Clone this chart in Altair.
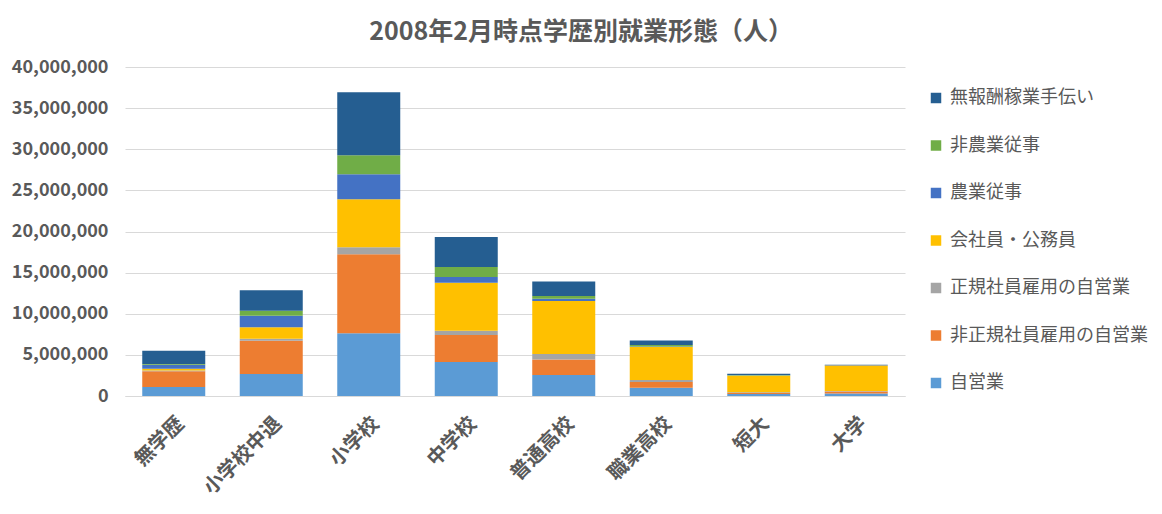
import altair as alt
import pandas as pd

categories = ["無学歴", "小学校中退", "小学校", "中学校", "普通高校", "職業高校", "短大", "大学"]
series = ["自営業", "非正規社員雇用の自営業", "正規社員雇用の自営業", "会社員・公務員",
          "農業従事", "非農業従事", "無報酬稼業手伝い"]
colors = ["#5B9BD5", "#ED7D31", "#A5A5A5", "#FFC000", "#4472C4", "#70AD47", "#255E91"]

jieigyo      = [1100000, 2670000, 7620000, 4130000, 2550000, 1000000, 250000, 300000]
hiseiki      = [1900000, 4050000, 9600000, 3300000, 1900000, 700000, 100000, 250000]
seiki        = [100000, 250000, 850000, 500000, 650000, 250000, 100000, 60000]
kaishain     = [200000, 1400000, 5850000, 5850000, 6450000, 4000000, 2000000, 3100000]
nogyo        = [500000, 1400000, 3050000, 700000, 280000, 80000, 40000, 20000]
hinogyo      = [100000, 600000, 2300000, 1200000, 330000, 160000, 60000, 20000]
muhoshu      = [1600000, 2500000, 7650000, 3650000, 1750000, 570000, 150000, 60000]

values = [jieigyo, hiseiki, seiki, kaishain, nogyo, hinogyo, muhoshu]

rows = []
for si, (s, vals) in enumerate(zip(series, values)):
    for c, v in zip(categories, vals):
        rows.append({"学歴": c, "形態": s, "人数": v, "順": si})
df = pd.DataFrame(rows)

font = "Noto Sans CJK JP"
grey = "#595959"

bars = alt.Chart(df).mark_bar(size=63).encode(
    x=alt.X("学歴:N", sort=categories, title=None,
            axis=alt.Axis(labelAngle=-45, labelFontSize=20, labelFontWeight="bold",
                          labelColor=grey, labelFont=font, ticks=False,
                          domainColor="#D9D9D9", labelPadding=17)),
    y=alt.Y("sum(人数):Q", title=None, stack="zero",
            scale=alt.Scale(domain=[0, 40000000], nice=False),
            axis=alt.Axis(values=list(range(0, 40000001, 5000000)), format=",d",
                          labelFontSize=18, labelFontWeight="bold", labelColor=grey,
                          labelFont=font, ticks=False, domain=False,
                          gridColor="#D9D9D9", labelPadding=17)),
    color=alt.Color("形態:N",
                    scale=alt.Scale(domain=series[::-1], range=colors[::-1]),
                    legend=alt.Legend(title=None, orient="none", legendX=802, legendY=22,
                                      symbolType="square", symbolSize=110,
                                      symbolStrokeWidth=0, labelOffset=5,
                                      labelFontSize=18, labelColor=grey, labelFont=font,
                                      rowPadding=29.5, labelLimit=300)),
    order=alt.Order("順:Q", sort="ascending"),
)

chart = bars.properties(
    width=780, height=329,
    padding={"left": 117, "top": 59, "right": 249, "bottom": 110},
    autosize=alt.AutoSizeParams(type="none"),
    background="white",
    title=alt.TitleParams("2008年2月時点学歴別就業形態（人）", fontSize=25, fontWeight="bold",
                          color=grey, font=font, anchor="middle", offset=13, dx=66),
).configure_view(stroke=None)

chart.save("out.html", embed_options={"renderer": "svg", "actions": False})
